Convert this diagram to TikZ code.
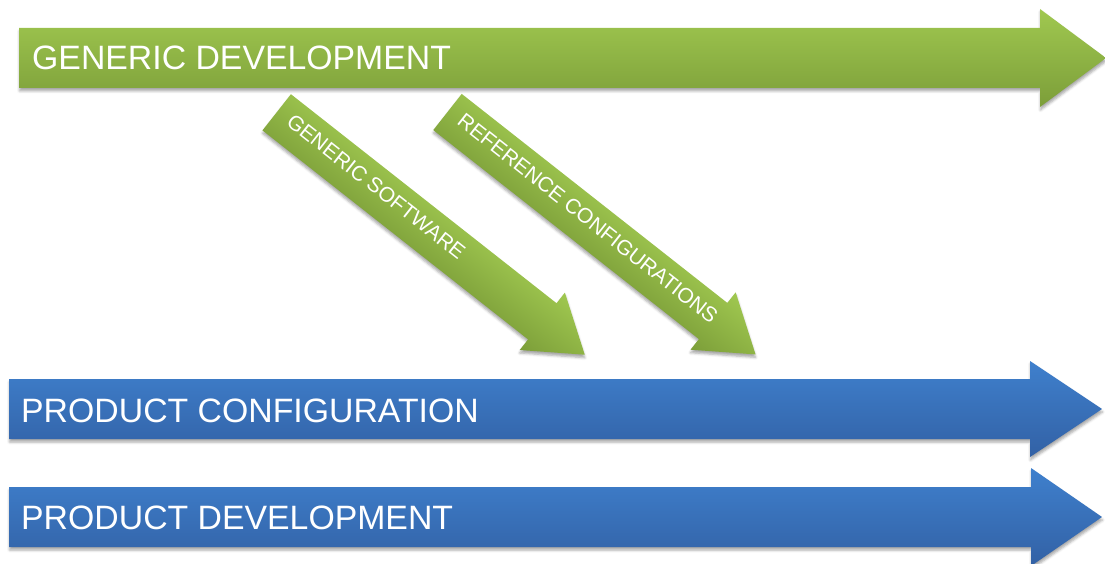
\documentclass[tikz,border=0pt]{standalone}
\usepackage{fontspec}
\setmainfont{Liberation Sans}
\usetikzlibrary{shadows.blur}

\definecolor{greenTop}{HTML}{A0C850}
\definecolor{greenBot}{HTML}{7C9E39}
\definecolor{blueTop}{HTML}{3F80CD}
\definecolor{blueBot}{HTML}{3261A5}

\tikzset{
  barshadow/.style={blur shadow={shadow xshift=0.5pt, shadow yshift=-3pt,
      shadow blur radius=2.5pt, shadow opacity=35}},
  greenbar/.style={top color=greenTop, bottom color=greenBot, draw=none, barshadow},
  bluebar/.style={top color=blueTop, bottom color=blueBot, draw=none, barshadow},
  slantbar/.style={top color=greenTop, bottom color=greenBot, draw=none,
    blur shadow={shadow xshift=1.85pt, shadow yshift=-2.36pt,
      shadow blur radius=2.5pt, shadow opacity=35}},
  bartext/.style={text=white, font=\fontsize{33.8}{40}\selectfont,
    anchor=base west, inner sep=0pt},
  slanttext/.style={text=white, font=\fontsize{21}{25}\selectfont,
    anchor=base west, inner sep=0pt, rotate=-38.2},
}

\begin{document}
\begin{tikzpicture}[x=1pt,y=-1pt]
  \useasboundingbox (0,0) rectangle (1105,564);

  % generic development (top green arrow)
  \path[greenbar] (19,28) -- (1040,28) -- (1040,9) -- (1106,58)
    -- (1040,107) -- (1040,88) -- (19,88) -- cycle;
  \node[bartext] (gendev) at (32,70) {GENERIC DEVELOPMENT};

  % two slanted arrows feeding down into product configuration
  \begin{scope}[transform canvas={shift={(276.7,112.3)}, rotate=-38.2}]
    \path[slantbar] (0,-23) -- (338,-23) -- (338,-36.5) -- (392,0)
      -- (338,36.5) -- (338,23) -- (0,23) -- cycle;
  \end{scope}
  \node[slanttext] (gensw) at (285.2,124.1) {GENERIC SOFTWARE};

  \begin{scope}[transform canvas={shift={(447.5,112)}, rotate=-38.2}]
    \path[slantbar] (0,-23) -- (338,-23) -- (338,-36.5) -- (392,0)
      -- (338,36.5) -- (338,23) -- (0,23) -- cycle;
  \end{scope}
  \node[slanttext] (refconf) at (456,123.8) {REFERENCE CONFIGURATIONS};

  % product configuration
  \path[bluebar] (9,379) -- (1030,379) -- (1030,361) -- (1102,409)
    -- (1030,457) -- (1030,439) -- (9,439) -- cycle;
  \node[bartext] (prodconf) at (21,422.7) {PRODUCT CONFIGURATION};

  % product development
  \path[bluebar] (9,487) -- (1031,487) -- (1031,468) -- (1102,517)
    -- (1031,566) -- (1031,547) -- (9,547) -- cycle;
  \node[bartext] (proddev) at (21,529.3) {PRODUCT DEVELOPMENT};
\end{tikzpicture}
\end{document}
